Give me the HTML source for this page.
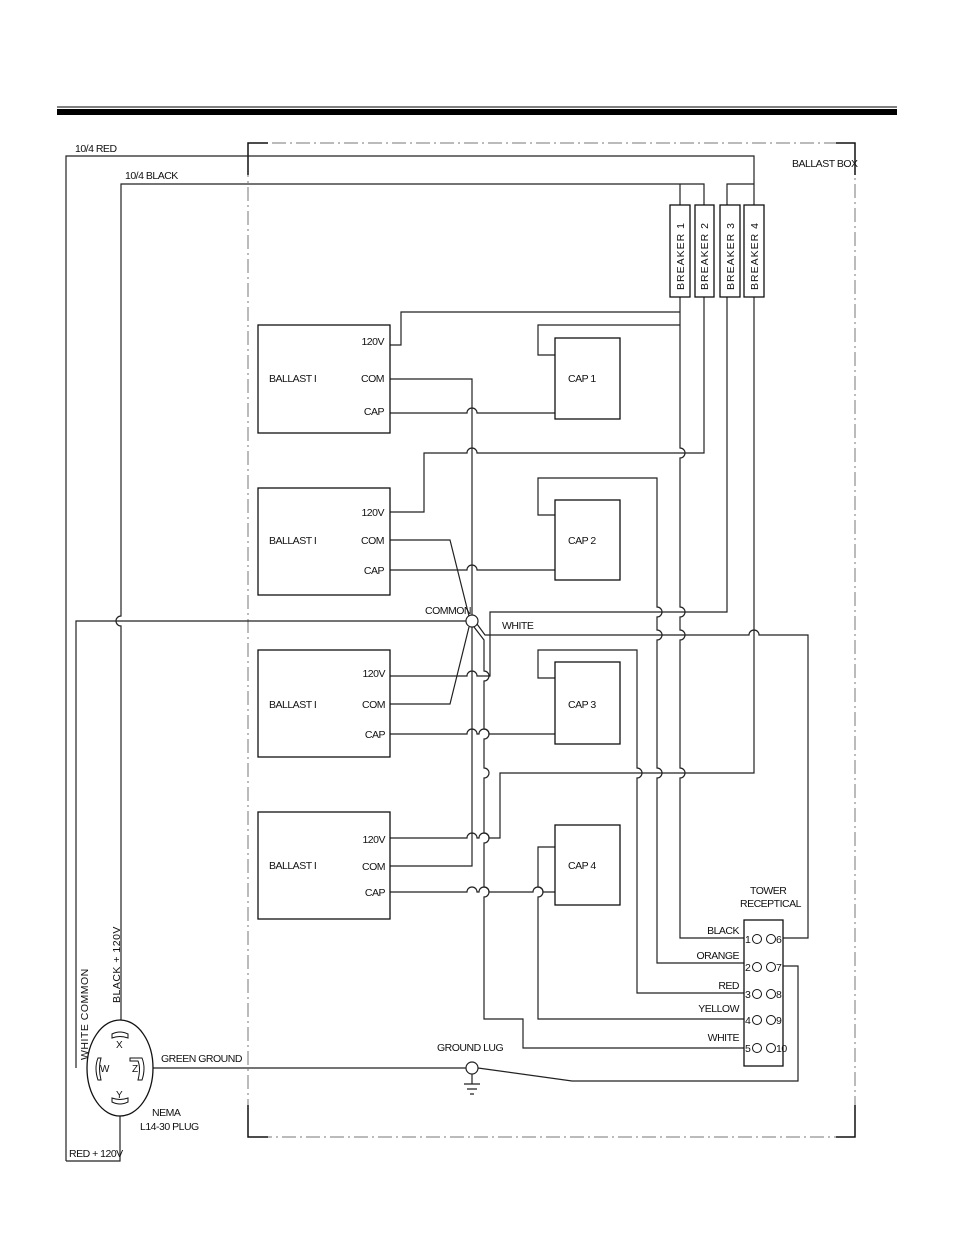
<!DOCTYPE html>
<html><head><meta charset="utf-8"><style>
html,body{margin:0;padding:0;background:#fff;}
svg{display:block;}
text{font-family:"Liberation Sans",sans-serif;font-size:10.5px;fill:#111;letter-spacing:-0.5px;}
</style></head><body>
<svg width="954" height="1235" viewBox="0 0 954 1235" xmlns="http://www.w3.org/2000/svg">
<rect x="0" y="0" width="954" height="1235" fill="#fff"/>
<rect x="57" y="109" width="840" height="6" fill="#000"/>
<line x1="57" y1="107" x2="897" y2="107" stroke="#000" stroke-width="1"/>

<g stroke="#777" stroke-width="1" fill="none">
<rect x="248" y="143" width="607" height="994" stroke-dasharray="14 4 2 4"/>
</g>
<g stroke="#111" stroke-width="1.5" fill="none">
<path d="M248 175 V143 H268"/>
<path d="M836 143 H855 V175"/>
<path d="M248 1105 V1137 H268"/>
<path d="M855 1105 V1137 H836"/>
</g>

<g stroke="#222" stroke-width="1.2" fill="none">
<path d="M66 1161 V156 H754 V205"/>
<path d="M66 1161 H120 V1116"/>
<path d="M754 297 V773 H500 V838 H489 A5 5 0 0 0 479 838 H477 A5 5 0 0 0 467 838 H390"/>
<path d="M121 1020 V626 A5 5 0 0 1 121 616 V184 H704 V205"/>
<path d="M680 184 V205"/>
<path d="M727 205 V184 H754"/>
<path d="M680 297 V448 A5 5 0 0 1 680 458 V607 A5 5 0 0 1 680 617 V630 A5 5 0 0 1 680 640 V768 A5 5 0 0 1 680 778 V938 H744"/>
<path d="M680 312 H401 V345 H390"/>
<path d="M680 325 H538 V355 H555"/>
<path d="M704 297 V453 H477 A5 5 0 0 0 467 453 H424 V512 H390"/>
<path d="M727 297 V612 H490 V676 H477 A5 5 0 0 0 467 676 H390"/>
<path d="M555 515 H538 V478 H657 V607 A5 5 0 0 1 657 617 V630 A5 5 0 0 1 657 640 V768 A5 5 0 0 1 657 778 V963 H744"/>
<path d="M555 678 H538 V650 H637 V768 A5 5 0 0 1 637 778 V993 H744"/>
<path d="M555 847 H538 V887 A5 5 0 0 1 538 897 V1019 H744"/>
<path d="M390 379 H472 V615"/>
<path d="M472 627 V866 H390"/>
<path d="M390 413 H467 A5 5 0 0 1 477 413 H555"/>
<path d="M390 570 H467 A5 5 0 0 1 477 570 H555"/>
<path d="M390 734 H467 A5 5 0 0 1 477 734 H479 A5 5 0 0 1 489 734 H555"/>
<path d="M390 892 H467 A5 5 0 0 1 477 892 H479 A5 5 0 0 1 489 892 H533 A5 5 0 0 1 543 892 H555"/>
<path d="M390 540 H450 L469 616"/>
<path d="M390 704 H450 L469 627"/>
<path d="M477 624 L485 635 H749 A5 5 0 0 1 759 635 H808 V938 H783"/>
<path d="M474 627 L484 640 V671 A5 5 0 0 1 484 681 V729 A5 5 0 0 1 484 739 V768 A5 5 0 0 1 484 778 V833 A5 5 0 0 1 484 843 V887 A5 5 0 0 1 484 897 V1019 H523 V1048 H744"/>
<path d="M76 1068 V621 H466"/>
<path d="M152 1068 H466"/>
<path d="M478 1068 L572 1081 H798 V966 H783"/>
<path d="M472 1074 V1084 M464 1084 H480 M467 1089 H477 M470 1094 H474"/>
<circle cx="472" cy="621" r="6" fill="#fff"/>
<circle cx="472" cy="1068" r="6" fill="#fff"/>
</g>

<g stroke="#111" stroke-width="1.3" fill="#fff">
<rect x="258" y="325" width="132" height="108"/>
<rect x="258" y="488" width="132" height="107"/>
<rect x="258" y="650" width="132" height="107"/>
<rect x="258" y="812" width="132" height="107"/>
<rect x="555" y="338" width="65" height="81"/>
<rect x="555" y="500" width="65" height="80"/>
<rect x="555" y="662" width="65" height="82"/>
<rect x="555" y="825" width="65" height="80"/>
<rect x="670" y="205" width="20" height="92"/>
<rect x="695" y="205" width="19" height="92"/>
<rect x="720" y="205" width="20" height="92"/>
<rect x="744" y="205" width="20" height="92"/>
<rect x="744" y="920" width="39" height="146"/>
<ellipse cx="120" cy="1068" rx="33" ry="48"/>
</g>

<g style="font-size:10px;">
<text transform="translate(684,290) rotate(-90)" style="letter-spacing:1px">BREAKER 1</text>
<text transform="translate(708,290) rotate(-90)" style="letter-spacing:1px">BREAKER 2</text>
<text transform="translate(734,290) rotate(-90)" style="letter-spacing:1px">BREAKER 3</text>
<text transform="translate(758,290) rotate(-90)" style="letter-spacing:1px">BREAKER 4</text>
<text transform="translate(88,1060) rotate(-90)" style="letter-spacing:0.5px">WHITE COMMON</text>
<text transform="translate(120,1003) rotate(-90)" style="letter-spacing:0.5px">BLACK + 120V</text>
</g>

<g>
<text x="75" y="152">10/4 RED</text>
<text x="125" y="179">10/4 BLACK</text>
<text x="792" y="167">BALLAST BOX</text>
<text x="269" y="382">BALLAST I</text>
<text x="269" y="544">BALLAST I</text>
<text x="269" y="708">BALLAST I</text>
<text x="269" y="869">BALLAST I</text>
<g text-anchor="end">
<text x="384" y="345">120V</text><text x="384" y="382">COM</text><text x="384" y="415">CAP</text>
<text x="384" y="516">120V</text><text x="384" y="544">COM</text><text x="384" y="574">CAP</text>
<text x="385" y="677">120V</text><text x="385" y="708">COM</text><text x="385" y="738">CAP</text>
<text x="385" y="843">120V</text><text x="385" y="870">COM</text><text x="385" y="896">CAP</text>
</g>
<text x="568" y="382">CAP 1</text>
<text x="568" y="544">CAP 2</text>
<text x="568" y="708">CAP 3</text>
<text x="568" y="869">CAP 4</text>
<text x="425" y="614">COMMON</text>
<text x="502" y="629">WHITE</text>
<text x="437" y="1051">GROUND LUG</text>
<text x="161" y="1062">GREEN GROUND</text>
<text x="152" y="1116">NEMA</text>
<text x="140" y="1130">L14-30 PLUG</text>
<text x="69" y="1157">RED + 120V</text>
<text x="750" y="894">TOWER</text>
<text x="740" y="907">RECEPTICAL</text>
<g text-anchor="end">
<text x="739" y="934">BLACK</text>
<text x="739" y="959">ORANGE</text>
<text x="739" y="989">RED</text>
<text x="739" y="1012">YELLOW</text>
<text x="739" y="1041">WHITE</text>
</g>
<text x="745" y="943">1</text><text x="745" y="971">2</text><text x="745" y="998">3</text><text x="745" y="1024">4</text><text x="745" y="1052">5</text>
<text x="776" y="943">6</text><text x="776" y="971">7</text><text x="776" y="998">8</text><text x="776" y="1024">9</text><text x="776" y="1052">10</text>
<text x="116" y="1048" style="font-size:10px">X</text>
<text x="100" y="1072" style="font-size:10px">W</text>
<text x="132" y="1072" style="font-size:10px">Z</text>
<text x="116" y="1098" style="font-size:10px">Y</text>
</g>

<g stroke="#111" stroke-width="1" fill="none">
<circle cx="757" cy="939" r="4.5"/><circle cx="771" cy="939" r="4.5"/>
<circle cx="757" cy="967" r="4.5"/><circle cx="771" cy="967" r="4.5"/>
<circle cx="757" cy="994" r="4.5"/><circle cx="771" cy="994" r="4.5"/>
<circle cx="757" cy="1020" r="4.5"/><circle cx="771" cy="1020" r="4.5"/>
<circle cx="757" cy="1048" r="4.5"/><circle cx="771" cy="1048" r="4.5"/>
<path d="M112 1034 Q120 1030 128 1034 L128 1038 Q120 1035 112 1038 Z"/>
<path d="M112 1102 Q120 1106 128 1102 L128 1098 Q120 1101 112 1098 Z"/>
<path d="M98 1058 Q94 1068 98 1080 L101 1080 Q98 1068 101 1058 Z"/>
<path d="M130 1058 H142 Q146 1068 142 1080 H138 Q141 1068 138 1061 H130 Z"/>
</g>
</svg>
</body></html>
